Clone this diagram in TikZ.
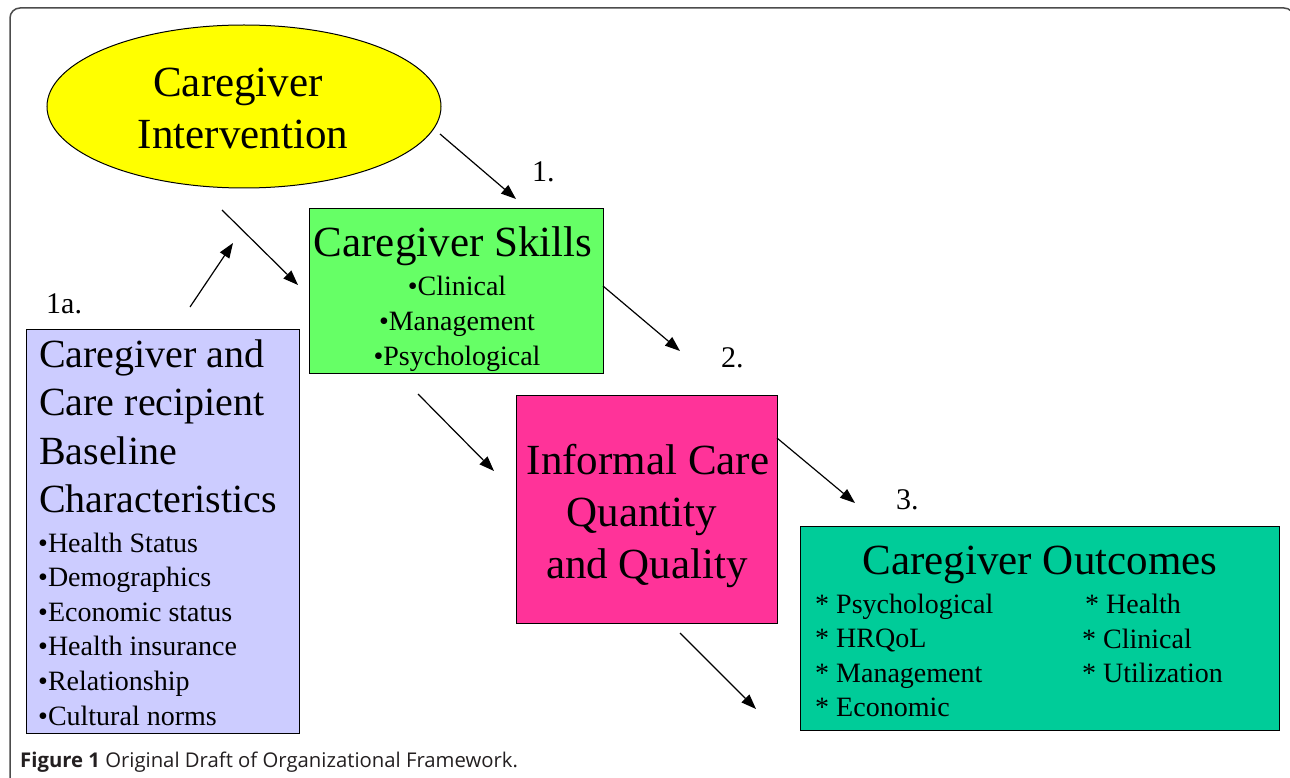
\documentclass[tikz,border=0pt]{standalone}
\usepackage{fontspec}
\setmainfont{Liberation Serif}
\setsansfont{Open Sans}
\usetikzlibrary{arrows.meta,shapes.geometric}
\definecolor{intyellow}{RGB}{255,255,0}
\definecolor{skillgreen}{RGB}{102,255,102}
\definecolor{carepink}{RGB}{255,51,153}
\definecolor{baseblue}{RGB}{204,204,255}
\definecolor{outteal}{RGB}{0,204,153}
\definecolor{captiongray}{RGB}{35,31,32}
\tikzset{
  box/.style={draw=black, line width=1pt, inner sep=0pt},
  link/.style={line width=1.2pt, -{Triangle[length=15pt,width=11pt]}},
  bigtxt/.style={inner sep=0pt, anchor=base, font=\fontsize{43}{50}\selectfont},
  basetxt/.style={inner sep=0pt, anchor=base west, font=\fontsize{40}{48}\selectfont},
  listtxt/.style={inner sep=0pt, anchor=base west, font=\fontsize{28}{34}\selectfont},
  numtxt/.style={inner sep=0pt, anchor=base west, font=\fontsize{30}{36}\selectfont},
}
\begin{document}
\begin{tikzpicture}[x=1pt,y=-1pt]
\useasboundingbox (0,0) rectangle (1290,778);
% frame
\draw[line width=1.5pt, black!70, rounded corners=10pt] (10,8) rectangle (1294,800);
% boxes
\node[box, ellipse, fill=intyellow, minimum width=394pt, minimum height=163pt] (interv) at (244,106.5) {};
\node[box, fill=skillgreen, minimum width=294pt, minimum height=164pt] (skills) at (456,291) {};
\node[box, fill=carepink, minimum width=261pt, minimum height=228pt] (care) at (646.5,509) {};
\node[box, fill=baseblue, minimum width=273pt, minimum height=404pt] (baseline) at (162.5,531) {};
\node[box, fill=outteal, minimum width=479pt, minimum height=204pt] (outcomes) at (1039.5,628) {};
% texts
\node[bigtxt] (interv1) at (238,97) {Caregiver};
\node[bigtxt] (interv2) at (243,149) {Intervention};
\node[bigtxt] (skillstitle) at (453,256) {Caregiver Skills};
\foreach \t [count=\i] in {Clinical,Management,Psychological}
  \node[listtxt, anchor=base] (skill\i) at (457,260+35*\i) {•\t};
\node[bigtxt] (care1) at (648,474) {Informal Care};
\node[bigtxt] (care2) at (642,526) {Quantity};
\node[bigtxt] (care3) at (647,578) {and Quality};
\foreach \t [count=\i] in {Caregiver and,Care recipient,Baseline,Characteristics}
  \node[basetxt] (basetitle\i) at (39,319.3+48.3*\i) {\t};
\foreach \t [count=\i] in {Health Status,Demographics,Economic status,Health insurance,Relationship,Cultural norms}
  \node[listtxt] (baseitem\i) at (38,517.4+34.6*\i) {•\t};
\node[bigtxt] (outtitle) at (1040,574) {Caregiver Outcomes};
\foreach \t [count=\i] in {Psychological,HRQoL,Management,Economic}
  \node[listtxt] (outleft\i) at (815,578.5+34.6*\i) {* \t};
\node[listtxt] (outright1) at (1085,613) {* Health};
\node[listtxt] (outright2) at (1082,648) {* Clinical};
\node[listtxt] (outright3) at (1082,682.5) {* Utilization};
% step labels
\node[numtxt] (lab1) at (532,182) {1.};
\node[numtxt] (lab1a) at (46,313) {1a.};
\node[numtxt] (lab2) at (721,367) {2.};
\node[numtxt] (lab3) at (896,509) {3.};
% arrows
\coordinate (a1s) at (440,134); \coordinate (a1e) at (516,199);
\coordinate (a2s) at (222,210); \coordinate (a2e) at (298,285);
\coordinate (a3s) at (190,307); \coordinate (a3e) at (233,243);
\coordinate (a4s) at (603,286); \coordinate (a4e) at (680,351);
\coordinate (a5s) at (418,394); \coordinate (a5e) at (494,471);
\coordinate (a6s) at (777,438); \coordinate (a6e) at (855,503);
\coordinate (a7s) at (680,633); \coordinate (a7e) at (756,709);
\draw[link] (a1s) -- (a1e);
\draw[link] (a2s) -- (a2e);
\draw[link] (a3s) -- (a3e);
\draw[link] (a4s) -- (a4e);
\draw[link] (a5s) -- (a5e);
\draw[link] (a6s) -- (a6e);
\draw[link] (a7s) -- (a7e);
% caption
\node[inner sep=0pt, anchor=base west, text=captiongray, font=\sffamily\fontsize{20.3}{24}\selectfont] (caption) at (20,767)
  {\textbf{Figure 1} Original Draft of Organizational Framework.};
\end{tikzpicture}
\end{document}
